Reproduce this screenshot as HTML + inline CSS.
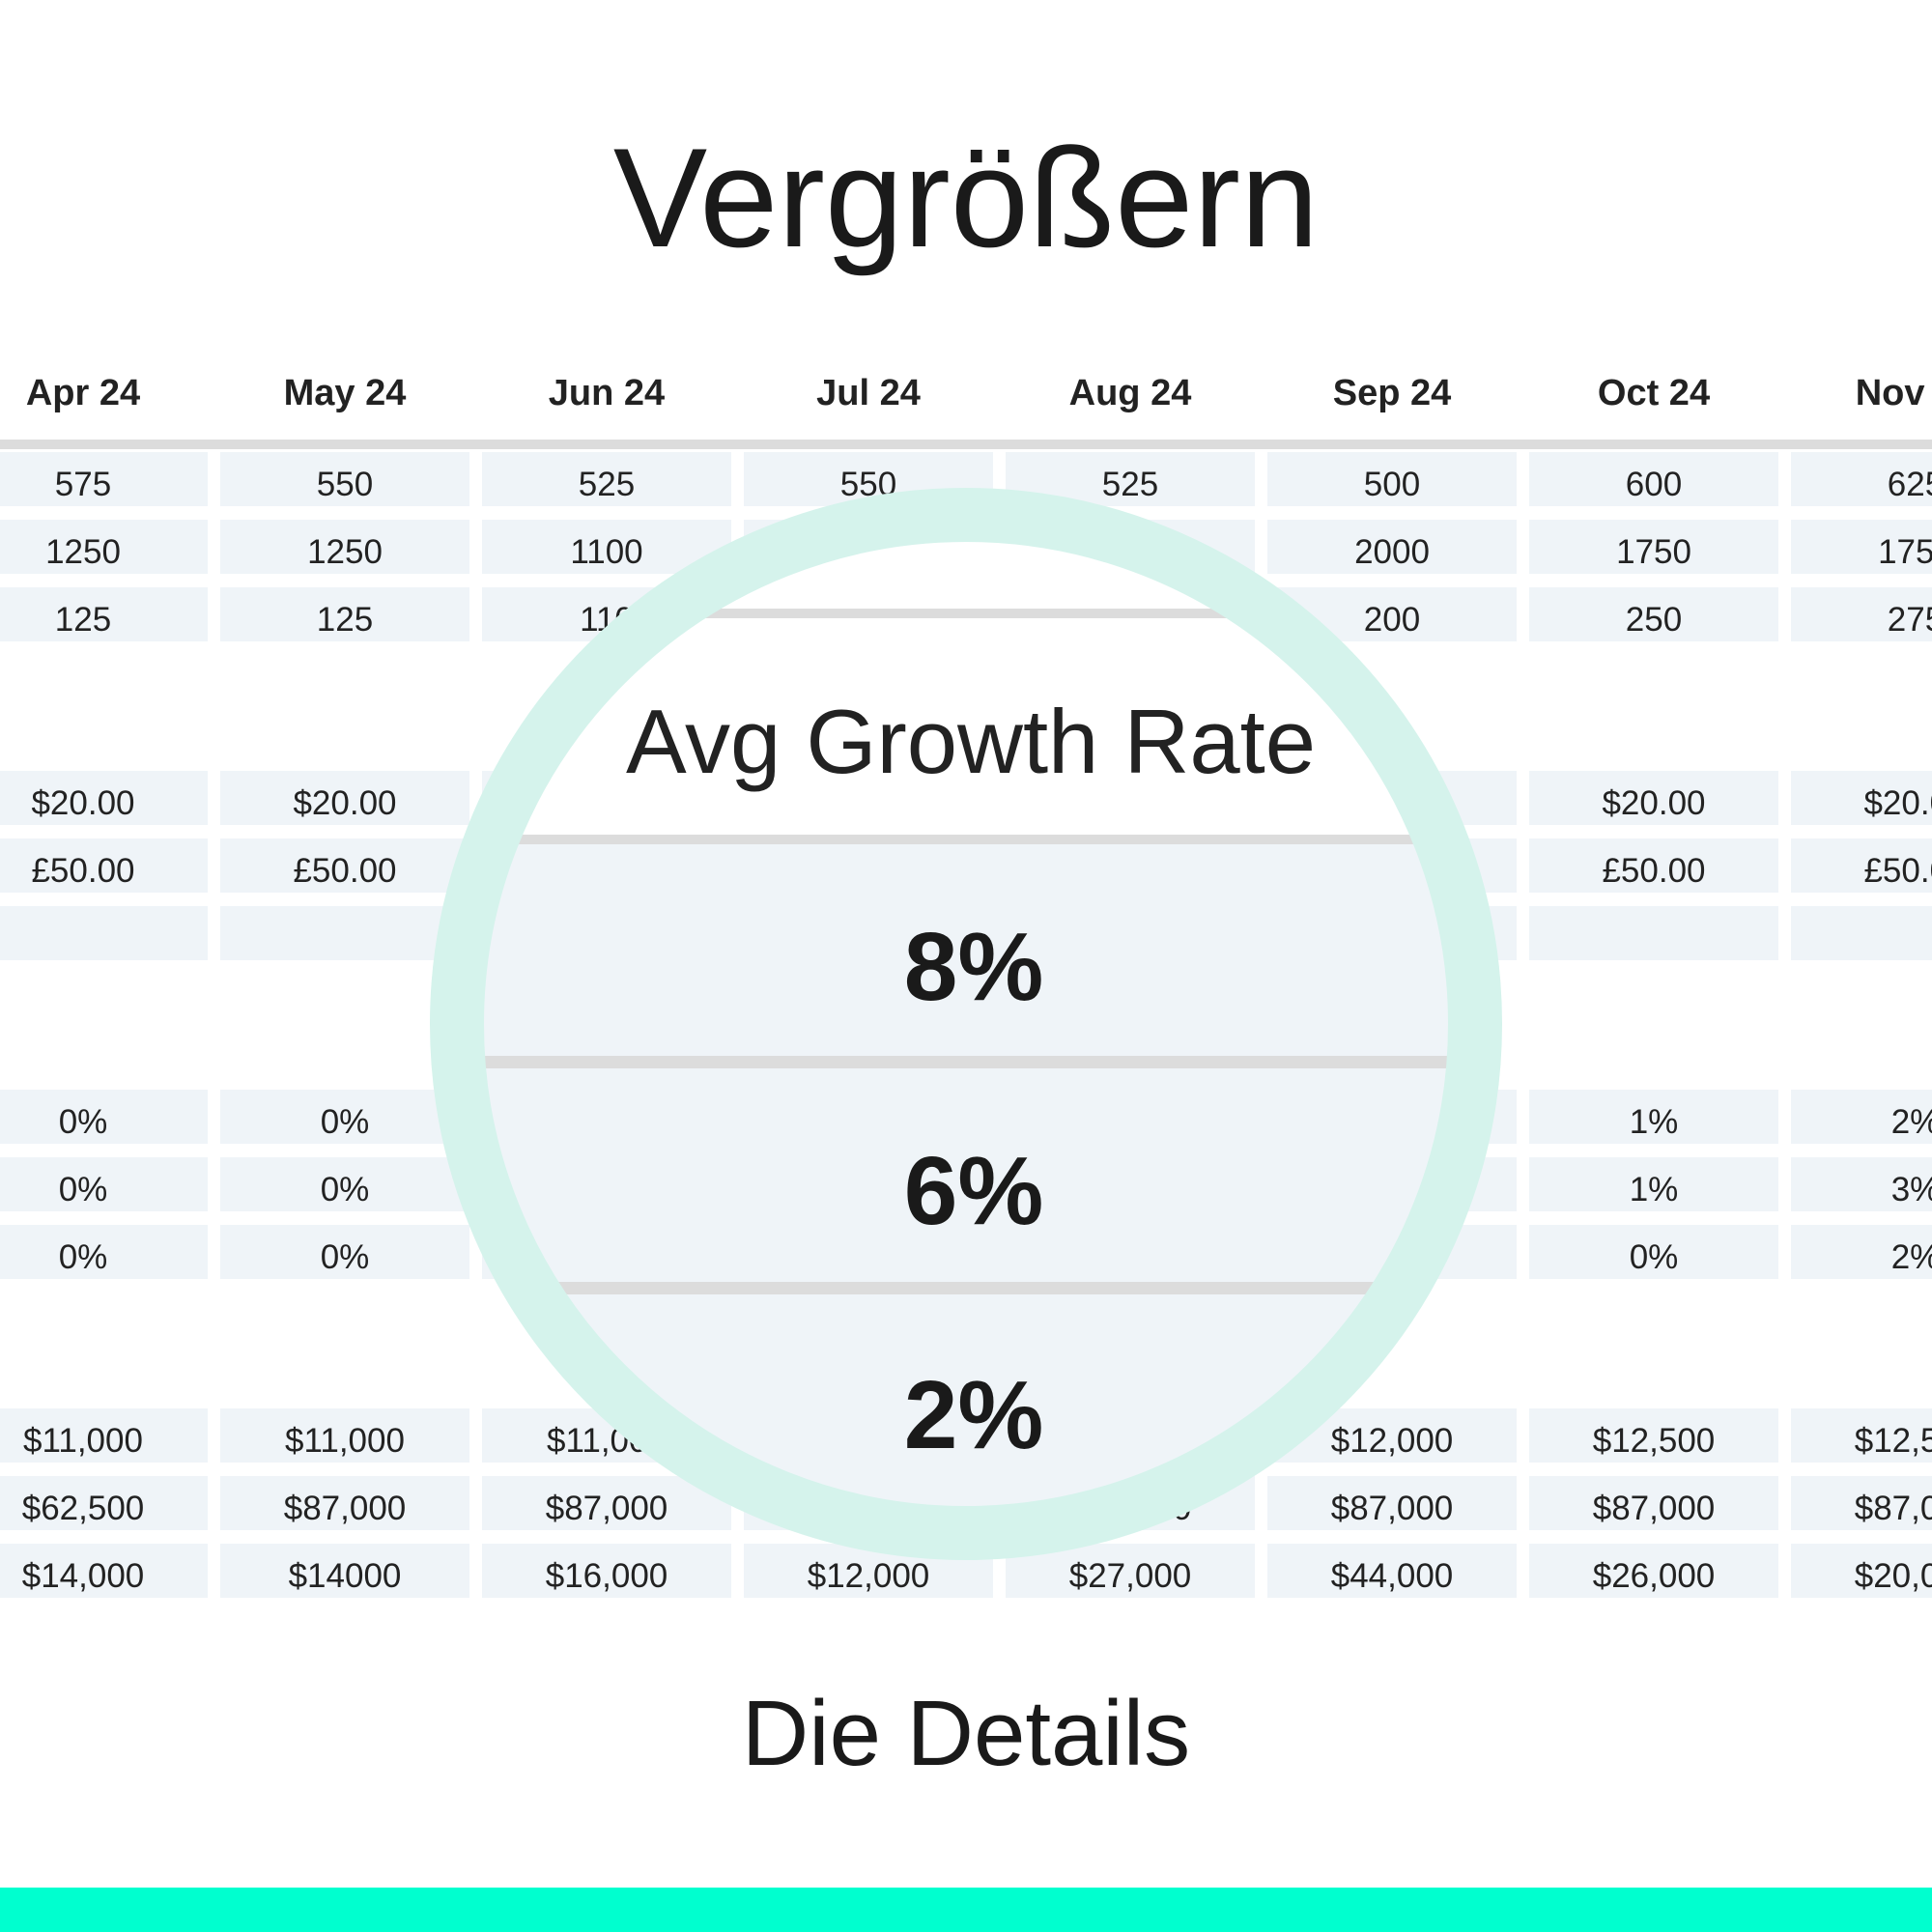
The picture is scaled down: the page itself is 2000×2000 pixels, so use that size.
<!DOCTYPE html>
<html><head><meta charset="utf-8"><style>html,body{margin:0;padding:0;background:#fff}svg{display:block}</style></head>
<body>
<svg width="2000" height="2000" viewBox="0 0 2000 2000" xmlns="http://www.w3.org/2000/svg" font-family="Liberation Sans, sans-serif">
<defs>
<g id="row">
<rect x="-43" y="0" width="258" height="56" fill="#eff4f8"/><rect x="228" y="0" width="258" height="56" fill="#eff4f8"/><rect x="499" y="0" width="258" height="56" fill="#eff4f8"/><rect x="770" y="0" width="258" height="56" fill="#eff4f8"/><rect x="1041" y="0" width="258" height="56" fill="#eff4f8"/><rect x="1312" y="0" width="258" height="56" fill="#eff4f8"/><rect x="1583" y="0" width="258" height="56" fill="#eff4f8"/><rect x="1854" y="0" width="258" height="56" fill="#eff4f8"/>
</g>
<clipPath id="inner"><circle cx="1000" cy="1060" r="500"/></clipPath>
</defs>
<rect width="2000" height="2000" fill="#fff"/>
<text x="1000" y="255" font-size="146" text-anchor="middle" fill="#1a1a1a">Vergrößern</text>
<g font-size="38" font-weight="bold" fill="#222" text-anchor="middle">
<text x="86" y="419">Apr 24</text><text x="357" y="419">May 24</text><text x="628" y="419">Jun 24</text><text x="899" y="419">Jul 24</text><text x="1170" y="419">Aug 24</text><text x="1441" y="419">Sep 24</text><text x="1712" y="419">Oct 24</text><text x="1983" y="419">Nov 24</text>
</g>
<rect x="0" y="455" width="2000" height="10" fill="#dcdcdc"/>
<use href="#row" y="468"/><use href="#row" y="538"/><use href="#row" y="608"/>
<use href="#row" y="798"/><use href="#row" y="868"/><use href="#row" y="938"/>
<use href="#row" y="1128"/><use href="#row" y="1198"/><use href="#row" y="1268"/>
<use href="#row" y="1458"/><use href="#row" y="1528"/><use href="#row" y="1598"/>
<g font-size="35" fill="#222" text-anchor="middle" transform="translate(0,4)">
<text x="86" y="509">575</text><text x="357" y="509">550</text><text x="628" y="509">525</text><text x="899" y="509">550</text><text x="1170" y="509">525</text><text x="1441" y="509">500</text><text x="1712" y="509">600</text><text x="1983" y="509">625</text>
<text x="86" y="579">1250</text><text x="357" y="579">1250</text><text x="628" y="579">1100</text><text x="1441" y="579">2000</text><text x="1712" y="579">1750</text><text x="1983" y="579">1750</text>
<text x="86" y="649">125</text><text x="357" y="649">125</text><text x="628" y="649">110</text><text x="1441" y="649">200</text><text x="1712" y="649">250</text><text x="1983" y="649">275</text>
<text x="86" y="839">$20.00</text><text x="357" y="839">$20.00</text><text x="1712" y="839">$20.00</text><text x="1983" y="839">$20.00</text>
<text x="86" y="909">£50.00</text><text x="357" y="909">£50.00</text><text x="1712" y="909">£50.00</text><text x="1983" y="909">£50.00</text>
<text x="86" y="1169">0%</text><text x="357" y="1169">0%</text><text x="1712" y="1169">1%</text><text x="1983" y="1169">2%</text>
<text x="86" y="1239">0%</text><text x="357" y="1239">0%</text><text x="1712" y="1239">1%</text><text x="1983" y="1239">3%</text>
<text x="86" y="1309">0%</text><text x="357" y="1309">0%</text><text x="1712" y="1309">0%</text><text x="1983" y="1309">2%</text>
<text x="86" y="1499">$11,000</text><text x="357" y="1499">$11,000</text><text x="628" y="1499">$11,000</text><text x="1441" y="1499">$12,000</text><text x="1712" y="1499">$12,500</text><text x="1983" y="1499">$12,500</text>
<text x="86" y="1569">$62,500</text><text x="357" y="1569">$87,000</text><text x="628" y="1569">$87,000</text><text x="1170" y="1569">$87,000</text><text x="1441" y="1569">$87,000</text><text x="1712" y="1569">$87,000</text><text x="1983" y="1569">$87,000</text>
<text x="86" y="1639">$14,000</text><text x="357" y="1639">$14000</text><text x="628" y="1639">$16,000</text><text x="899" y="1639">$12,000</text><text x="1170" y="1639">$27,000</text><text x="1441" y="1639">$44,000</text><text x="1712" y="1639">$26,000</text><text x="1983" y="1639">$20,000</text>
</g>
<g clip-path="url(#inner)">
<rect x="400" y="500" width="1200" height="1200" fill="#fff"/>
<rect x="400" y="630" width="1200" height="10" fill="#dcdcdc"/>
<rect x="400" y="864" width="1200" height="10" fill="#dcdcdc"/>
<rect x="400" y="874" width="1200" height="219" fill="#eff4f8"/>
<rect x="400" y="1093" width="1200" height="13" fill="#dcdcdc"/>
<rect x="400" y="1106" width="1200" height="221" fill="#eff4f8"/>
<rect x="400" y="1327" width="1200" height="13" fill="#dcdcdc"/>
<rect x="400" y="1340" width="1200" height="300" fill="#eff4f8"/>
<text x="1005" y="800" font-size="94" text-anchor="middle" fill="#222">Avg Growth Rate</text>
<g font-size="100" font-weight="bold" text-anchor="middle" fill="#1a1a1a">
<text x="1008" y="1035">8%</text><text x="1008" y="1267">6%</text><text x="1008" y="1499">2%</text>
</g>
</g>
<circle cx="1000" cy="1060" r="527" fill="none" stroke="#d5f3ec" stroke-width="56"/>
<text x="1000" y="1827" font-size="96" text-anchor="middle" fill="#1a1a1a">Die Details</text>
<rect x="0" y="1954" width="2000" height="46" fill="#00ffcf"/>
</svg>
</body></html>
